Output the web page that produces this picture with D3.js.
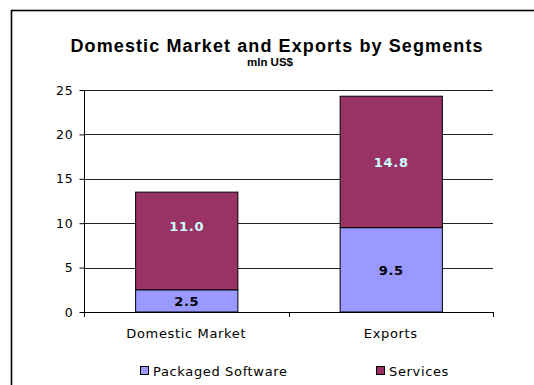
<!DOCTYPE html>
<html>
<head>
<meta charset="utf-8">
<script src="https://cdn.jsdelivr.net/npm/d3@7"></script>
<style>
  html, body { margin: 0; padding: 0; background: #fff; }
  svg { display: block; }
</style>
</head>
<body>
<svg id="chart" width="534" height="385"></svg>
<script>
// Market segments, in mln US$
const categories = ["Domestic Market", "Exports"];
const seriesNames = ["Packaged Software", "Services"];
const packagedSoftware = [2.5, 9.5];
const services = [11.0, 14.8];
const yTicks = [0, 5, 10, 15, 20, 25];
const seriesColors = ["#9999ff", "#993366"];
const labelColors = ["#000000", "#ccffff"];

const svg = d3.select("#chart");
const plotLeft = 84, plotRight = 493, plotTop = 90, plotBottom = 312;
const bodyFont = "DejaVu Sans, Verdana, sans-serif";

// outer frame
svg.append("rect")
  .attr("x", 11.5).attr("y", 10.5)
  .attr("width", 560).attr("height", 400)
  .attr("fill", "none").attr("stroke", "#000").attr("stroke-width", 1.6);

// title
svg.append("text")
  .attr("x", 276.5).attr("y", 52)
  .attr("text-anchor", "middle")
  .attr("font-family", "Liberation Sans, Arial, sans-serif")
  .attr("font-weight", "bold").attr("font-size", 18)
  .attr("textLength", 412).attr("lengthAdjust", "spacing")
  .text("Domestic Market and Exports by Segments");
svg.append("text")
  .attr("x", 270).attr("y", 66)
  .attr("text-anchor", "middle")
  .attr("font-family", "Liberation Sans, Arial, sans-serif")
  .attr("font-weight", "bold").attr("font-size", 11.5)
  .text("mln US$");

const x = d3.scaleBand().domain(categories).range([plotLeft, plotRight])
  .paddingInner(0.5).paddingOuter(0.25);
const y = d3.scaleLinear().domain([0, 25]).range([plotBottom, plotTop]);

// gridlines
svg.append("g").selectAll("line").data(yTicks.filter(d => d > 0)).join("line")
  .attr("x1", plotLeft).attr("x2", plotRight)
  .attr("y1", d => Math.round(y(d)) + 0.5).attr("y2", d => Math.round(y(d)) + 0.5)
  .attr("stroke", "#222").attr("stroke-width", 1);

// stacked bars
const rows = categories.map((c, i) => ({ cat: c, "Packaged Software": packagedSoftware[i], "Services": services[i] }));
const stack = d3.stack().keys(seriesNames)(rows);

const layers = svg.append("g").selectAll("g").data(stack).join("g")
  .attr("fill", (d, i) => seriesColors[i]);
layers.selectAll("rect").data(d => d).join("rect")
  .attr("x", d => x(d.data.cat) + 0.5)
  .attr("y", d => y(d[1]))
  .attr("width", x.bandwidth())
  .attr("height", d => y(d[0]) - y(d[1]))
  .attr("stroke", "#000").attr("stroke-width", 1);

// value labels; the domestic services label sits a little above its segment centre
const labelNudge = (seriesIdx, catIdx) => (seriesIdx === 1 && catIdx === 0) ? -15 : 0;
stack.forEach((layer, i) => {
  svg.append("g").selectAll("text").data(layer).join("text")
    .attr("x", d => x(d.data.cat) + x.bandwidth() / 2 + 0.5)
    .attr("y", (d, j) => (y(d[0]) + y(d[1])) / 2 + labelNudge(i, j))
    .attr("dy", "0.36em")
    .attr("text-anchor", "middle")
    .attr("font-family", bodyFont)
    .attr("font-weight", "bold").attr("font-size", 13)
    .attr("letter-spacing", 0.7)
    .attr("fill", labelColors[i])
    .text(d => (d[1] - d[0]).toFixed(1));
});

// y axis
const yAxis = svg.append("g").attr("transform", `translate(${plotLeft + 0.5},0)`)
  .call(d3.axisLeft(y).tickValues(yTicks).tickSize(5).tickPadding(6));
yAxis.select(".domain").attr("d", `M0,${plotTop}V${plotBottom + 4}`).attr("stroke", "#000");
yAxis.selectAll(".tick line").attr("stroke", "#000");
yAxis.selectAll("text")
  .attr("font-family", bodyFont).attr("font-size", 12.5)
  .attr("letter-spacing", 0.8).attr("fill", "#000");

// x axis
const xAxis = svg.append("g").attr("transform", `translate(0,${plotBottom + 0.5})`)
  .call(d3.axisBottom(x).tickSize(0).tickPadding(16));
xAxis.select(".domain").attr("d", `M${plotLeft},0H${plotRight}`).attr("stroke", "#000");
xAxis.selectAll("text")
  .attr("font-family", bodyFont).attr("font-size", 13)
  .attr("letter-spacing", 0.65).attr("fill", "#000");
// category separators
svg.append("g").selectAll("line").data([plotLeft, (plotLeft + plotRight) / 2, plotRight]).join("line")
  .attr("x1", d => Math.round(d) + 0.5).attr("x2", d => Math.round(d) + 0.5)
  .attr("y1", plotBottom).attr("y2", plotBottom + 5)
  .attr("stroke", "#000");

// legend
const legendX = [140, 376];
const legend = svg.append("g").selectAll("g").data(seriesNames).join("g")
  .attr("transform", (d, i) => `translate(${legendX[i]},366)`);
legend.append("rect")
  .attr("x", 0.5).attr("y", 0.5).attr("width", 8).attr("height", 8)
  .attr("fill", (d, i) => seriesColors[i]).attr("stroke", "#000");
legend.append("text")
  .attr("x", 13).attr("y", 9.5)
  .attr("font-family", bodyFont).attr("font-size", 13)
  .attr("letter-spacing", 0.65)
  .text(d => d);
</script>
</body>
</html>
